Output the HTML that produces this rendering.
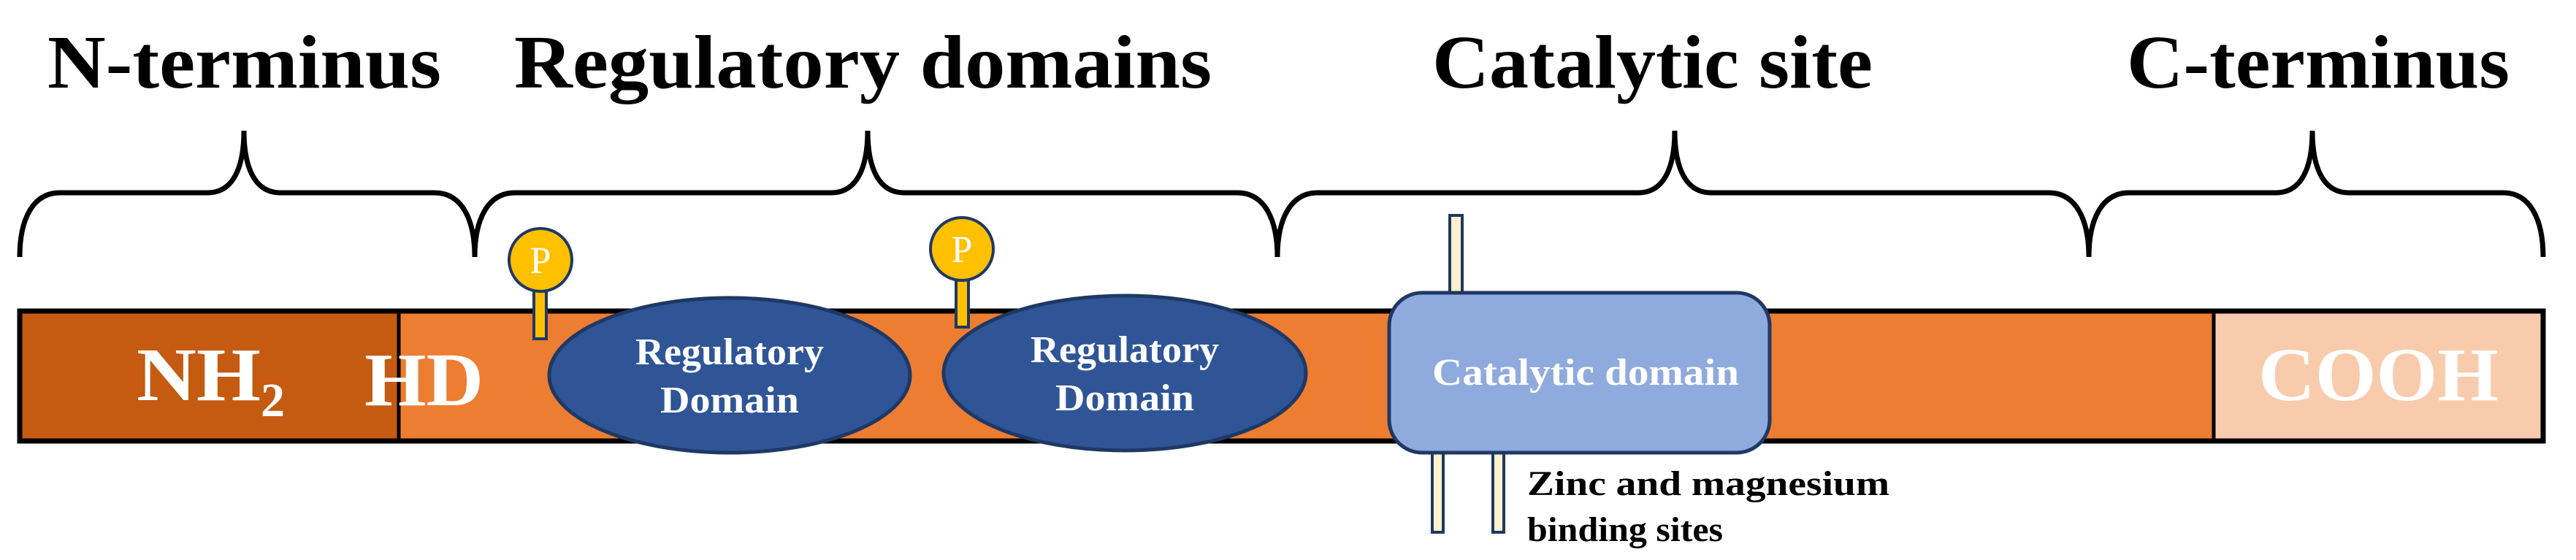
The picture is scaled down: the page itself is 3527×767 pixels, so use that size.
<!DOCTYPE html>
<html><head><meta charset="utf-8"><style>
html,body{margin:0;padding:0;background:#fff;}
svg{display:block;}
text{font-family:"Liberation Serif",serif;font-weight:bold;}
</style></head><body>
<svg width="3527" height="767" viewBox="0 0 3527 767" xmlns="http://www.w3.org/2000/svg">
<!-- titles -->
<text x="65" y="120" font-size="104" textLength="539" lengthAdjust="spacingAndGlyphs">N-terminus</text>
<text x="704" y="120" font-size="104" textLength="955" lengthAdjust="spacingAndGlyphs">Regulatory domains</text>
<text x="1961" y="120" font-size="104" textLength="603" lengthAdjust="spacingAndGlyphs">Catalytic site</text>
<text x="2912" y="120" font-size="104" textLength="524" lengthAdjust="spacingAndGlyphs">C-terminus</text>
<!-- braces -->
<g fill="none" stroke="#000" stroke-width="7">
<path d="M27 352 C27 300 45 264 82 264 L284 264 C319 264 334 230 334 179 C334 230 349 264 384 264 L595 264 C632 264 650 300 650 352"/>
<path d="M650 352 C650 300 668 264 705 264 L1138 264 C1173 264 1188 230 1188 179 C1188 230 1203 264 1238 264 L1694 264 C1731 264 1749 300 1749 352"/>
<path d="M1749 352 C1749 300 1767 264 1804 264 L2243 264 C2278 264 2293 230 2293 179 C2293 230 2308 264 2343 264 L2805 264 C2842 264 2860 300 2860 352"/>
<path d="M2860 352 C2860 300 2878 264 2915 264 L3116 264 C3151 264 3166 230 3166 179 C3166 230 3181 264 3216 264 L3427 264 C3464 264 3482 300 3482 352"/>
</g>
<!-- bar -->
<rect x="27" y="426" width="3455" height="178" fill="#ED7D31" stroke="#000" stroke-width="7"/>
<rect x="30.5" y="429.5" width="515.5" height="171" fill="#C55A11"/>
<rect x="3031" y="429.5" width="447.5" height="171" fill="#F8CBAD"/>
<line x1="546" y1="426" x2="546" y2="604" stroke="#000" stroke-width="5"/>
<line x1="3031" y1="426" x2="3031" y2="604" stroke="#000" stroke-width="5"/>
<text x="187" y="548" font-size="104" fill="#fff" textLength="170" lengthAdjust="spacingAndGlyphs">NH</text>
<text x="357" y="570" font-size="66" fill="#fff">2</text>
<text x="499" y="555" font-size="104" fill="#fff" textLength="163" lengthAdjust="spacingAndGlyphs">HD</text>
<text x="3092" y="548" font-size="104" fill="#fff" textLength="329" lengthAdjust="spacingAndGlyphs">COOH</text>
<!-- P markers -->
<g stroke="#1F3864" stroke-width="4">
<rect x="731" y="397" width="17" height="67" fill="#FFC000"/>
<ellipse cx="740" cy="356" rx="43" ry="43" fill="#FFC000"/>
<rect x="1309" y="382" width="17" height="66" fill="#FFC000"/>
<ellipse cx="1317" cy="341" rx="43" ry="43" fill="#FFC000"/>
</g>
<text x="740" y="374" font-size="52" fill="#fff" font-weight="normal" text-anchor="middle" style="font-weight:normal">P</text>
<text x="1317" y="359" font-size="52" fill="#fff" text-anchor="middle" style="font-weight:normal">P</text>
<!-- regulatory ellipses -->
<g fill="#2F5597" stroke="#1F3864" stroke-width="5">
<ellipse cx="999" cy="514" rx="247" ry="106"/>
<ellipse cx="1540" cy="511" rx="248" ry="106"/>
</g>
<g fill="#fff" font-size="52" text-anchor="middle">
<text x="999" y="499" textLength="258" lengthAdjust="spacingAndGlyphs">Regulatory</text>
<text x="999" y="565" textLength="190" lengthAdjust="spacingAndGlyphs">Domain</text>
<text x="1540" y="496" textLength="258" lengthAdjust="spacingAndGlyphs">Regulatory</text>
<text x="1540" y="562" textLength="190" lengthAdjust="spacingAndGlyphs">Domain</text>
</g>
<!-- catalytic -->
<g fill="#FFF2CC" stroke="#1F3864" stroke-width="4">
<rect x="1985" y="295" width="17" height="110"/>
<rect x="1961" y="615" width="15" height="114"/>
<rect x="2044" y="615" width="15" height="114"/>
</g>
<rect x="1902" y="401" width="521" height="219" rx="45" fill="#8FAADC" stroke="#1F3864" stroke-width="5"/>
<text x="1961" y="527" font-size="52" fill="#fff" textLength="420" lengthAdjust="spacingAndGlyphs">Catalytic domain</text>
<text x="2091" y="678" font-size="48" textLength="496" lengthAdjust="spacingAndGlyphs">Zinc and magnesium</text>
<text x="2091" y="741" font-size="48" textLength="268" lengthAdjust="spacingAndGlyphs">binding sites</text>
</svg>
</body></html>
